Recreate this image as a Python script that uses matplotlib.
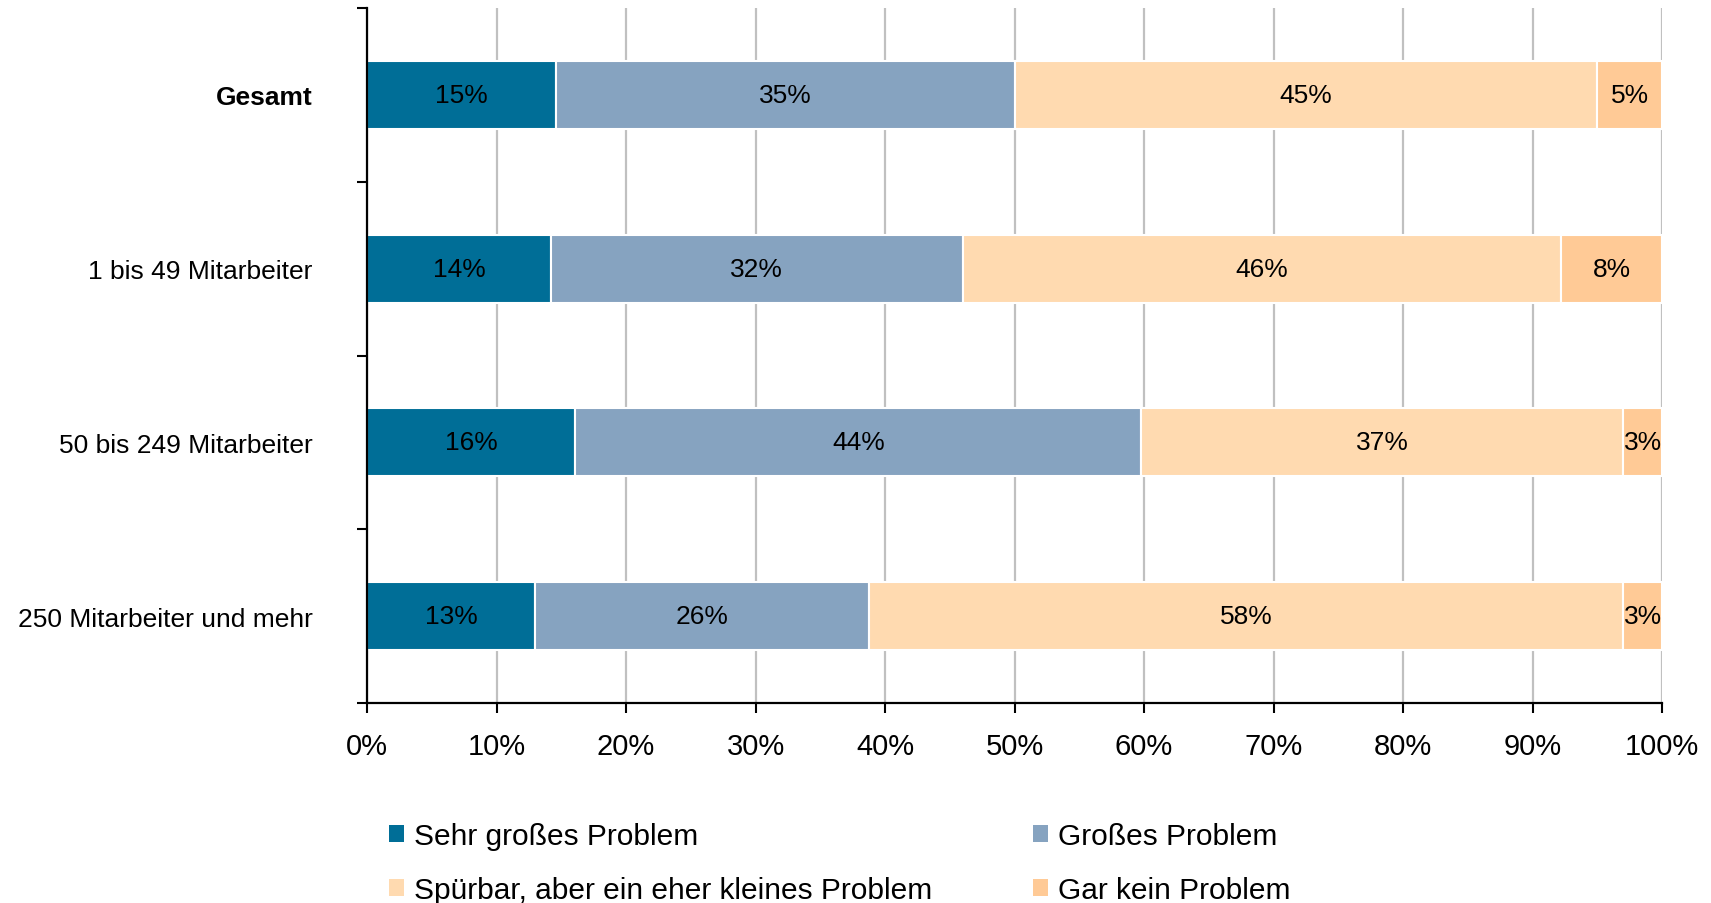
import matplotlib
matplotlib.use("Agg")
import matplotlib.pyplot as plt
from matplotlib.patches import Patch
import numpy as np

plt.rcParams['font.family'] = ['Liberation Sans', 'DejaVu Sans']

categories = ["Gesamt", "1 bis 49 Mitarbeiter", "50 bis 249 Mitarbeiter", "250 Mitarbeiter und mehr"]
series_names = ["Sehr großes Problem", "Großes Problem",
                "Spürbar, aber ein eher kleines Problem", "Gar kein Problem"]
sehr_gross = [14.6, 14.2, 16.1, 13.0]
gross = [35.4, 31.8, 43.7, 25.8]
spuerbar = [45.0, 46.2, 37.2, 58.2]
gar_kein = [5.0, 7.8, 3.0, 3.0]
colors = ["#006E97", "#86A3C0", "#FFDAB0", "#FFCA96"]
xticks = [0, 10, 20, 30, 40, 50, 60, 70, 80, 90, 100]

series = [sehr_gross, gross, spuerbar, gar_kein]

fig = plt.figure(figsize=(17.11, 9.04), dpi=100)
ax = fig.add_axes([367/1711, 1-704/904, (1662-367)/1711, (704-9)/904])

n = len(categories)
ypos = np.arange(n) + 0.5
left = np.zeros(n)
for vals, col in zip(series, colors):
    vals = np.array(vals)
    ax.barh(ypos, vals, left=left, height=0.39, color=col,
            edgecolor="white", linewidth=1.5, zorder=3)
    for y, l, v in zip(ypos, left, vals):
        ax.text(l + v/2, y, f"{round(v):.0f}%", ha="center", va="center",
                fontsize=19, color="black", zorder=4)
    left = left + vals

ax.set_xlim(0, 100)
ax.set_ylim(n, 0)
ax.set_xticks(xticks)
ax.set_xticklabels([f"{t}%" for t in xticks], fontsize=21)
ax.tick_params(axis="x", direction="out", length=7, width=1.5, pad=14)
ax.set_yticks(np.arange(n + 1))
ax.set_yticklabels([])
ax.tick_params(axis="y", which="major", direction="out", length=7, width=1.5)
ax.set_yticks(ypos, minor=True)
ax.set_yticklabels(categories, minor=True, fontsize=19)
ax.tick_params(axis="y", which="minor", length=0, pad=39)
for lbl in ax.get_yticklabels(minor=True):
    if lbl.get_text() == "Gesamt":
        lbl.set_fontweight("bold")

ax.grid(axis="x", color="#C0C0C0", linewidth=1.6, zorder=0)
ax.set_axisbelow(True)
for s in ["top", "right"]:
    ax.spines[s].set_visible(False)
for s in ["left", "bottom"]:
    ax.spines[s].set_linewidth(1.6)
    ax.spines[s].set_zorder(5)

order = [0, 2, 1, 3]
handles = [Patch(facecolor=colors[i], edgecolor="none") for i in order]
labels = [series_names[i] for i in order]
fig.legend(handles, labels, ncol=2, loc="center left",
           bbox_to_anchor=(389/1711, 1-864/904), frameon=False,
           fontsize=21.5, handlelength=0.5, handleheight=0.5,
           handletextpad=0.35, columnspacing=3.35, labelspacing=0.88,
           borderpad=0, borderaxespad=0)

fig.savefig("out.png", dpi=100)
